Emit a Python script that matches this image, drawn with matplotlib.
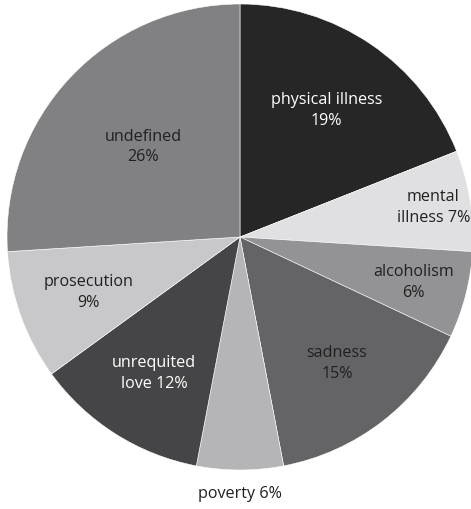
import matplotlib

matplotlib.use("Agg")
import matplotlib.pyplot as plt  # noqa: E402
import numpy as np  # noqa: E402

plt.rcParams["font.family"] = ["Open Sans", "DejaVu Sans"]

# slices, clockwise from 12 o'clock
causes = ["physical illness", "mental illness", "alcoholism", "sadness",
          "poverty", "unrequited love", "prosecution", "undefined"]
shares = [19, 7, 6, 15, 6, 12, 9, 26]
label_text = ["physical illness\n19%", "mental\nillness 7%", "alcoholism\n6%", "sadness\n15%",
              "poverty 6%", "unrequited\nlove 12%", "prosecution\n9%", "undefined\n26%"]

fills = ["#262626", "#e0e0e2", "#939395", "#646466", "#b5b5b7", "#454547", "#c8c8ca", "#818183"]
ink = ["white", "#231f20", "#231f20", "#231f20", "#231f20", "white", "#231f20", "#231f20"]
label_r = [0.66, 0.84, 0.77, 0.68, 1.10, 0.69, 0.69, 0.57]

W, H = 471, 510
fig = plt.figure(figsize=(W / 100, H / 100), dpi=100)
cx, cy, R = 240, 238, 233
ax = fig.add_axes([(cx - R) / W, (H - cy - R) / H, 2 * R / W, 2 * R / H])

wedges, _ = ax.pie(shares, colors=fills, startangle=90, counterclock=False,
                   wedgeprops=dict(linewidth=0.4, edgecolor="white"))
ax.set_aspect("equal")
ax.set_xlim(-1, 1)
ax.set_ylim(-1, 1)

for w, txt, col, r in zip(wedges, label_text, ink, label_r):
    mid = np.deg2rad((w.theta1 + w.theta2) / 2)
    ax.text(r * np.cos(mid), r * np.sin(mid), txt, ha="center", va="center",
            color=col, fontsize=11.6, linespacing=1.4, clip_on=False)

fig.savefig("out.png", dpi=100)
